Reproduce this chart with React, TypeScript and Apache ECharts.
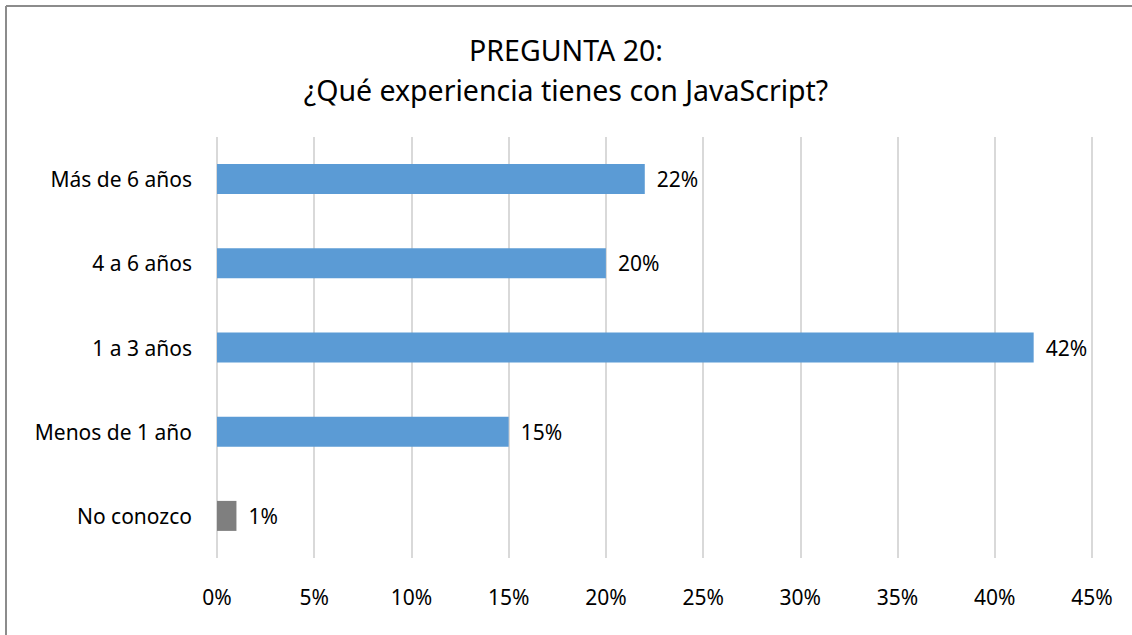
import React, { useEffect, useRef } from "react";
import * as echarts from "echarts";

const categories = ["No conozco", "Menos de 1 año", "1 a 3 años", "4 a 6 años", "Más de 6 años"];
const values = [1, 15, 42, 20, 22];
const barColors = ["#7f7f7f", "#5b9bd5", "#5b9bd5", "#5b9bd5", "#5b9bd5"];
const titleLines = ["PREGUNTA 20:", "¿Qué experiencia tienes con JavaScript?"];

const FONT = "'Noto Sans', 'Open Sans', sans-serif";

export default function App() {
  const ref = useRef<HTMLDivElement>(null);
  useEffect(() => {
    const chart = echarts.init(ref.current!, null, { renderer: "svg" });
    chart.setOption({
      animation: false,
      backgroundColor: "#ffffff",
      title: {
        text: titleLines.join("\n"),
        left: "center",
        top: 25,
        textStyle: {
          fontFamily: FONT,
          fontSize: 28.5,
          fontWeight: "normal",
          color: "#000000",
          lineHeight: 40,
        },
      },
      graphic: [
        {
          type: "line",
          shape: { x1: 6, y1: 6, x2: 1132, y2: 6 },
          style: { stroke: "#8c8c8c", lineWidth: 2 },
          silent: true,
        },
        {
          type: "line",
          shape: { x1: 6, y1: 6, x2: 6, y2: 635 },
          style: { stroke: "#8c8c8c", lineWidth: 2 },
          silent: true,
        },
      ],
      grid: { left: 217, right: 40, top: 137, bottom: 77, containLabel: false },
      xAxis: {
        type: "value",
        min: 0,
        max: 45,
        interval: 5,
        axisLine: { show: false },
        axisTick: { show: false },
        splitLine: { show: true, lineStyle: { color: "#d9d9d9", width: 2 } },
        axisLabel: {
          formatter: "{value}%",
          fontFamily: FONT,
          fontSize: 21,
          color: "#000000",
          margin: 28,
        },
      },
      yAxis: {
        type: "category",
        data: categories,
        axisLine: { show: false },
        axisTick: { show: false },
        axisLabel: {
          fontFamily: FONT,
          fontSize: 21,
          color: "#000000",
          margin: 25,
        },
      },
      series: [
        {
          type: "bar",
          data: values.map((v, i) => ({ value: v, itemStyle: { color: barColors[i] } })),
          barWidth: 30,
          label: {
            show: true,
            position: "right",
            distance: 12,
            formatter: "{c}%",
            fontFamily: FONT,
            fontSize: 21,
            color: "#000000",
          },
        },
      ],
    });
    return () => chart.dispose();
  }, []);
  return (
    <div
      ref={ref}
      style={{ position: "fixed", left: 0, top: 0, width: 1132, height: 635 }}
    />
  );
}
